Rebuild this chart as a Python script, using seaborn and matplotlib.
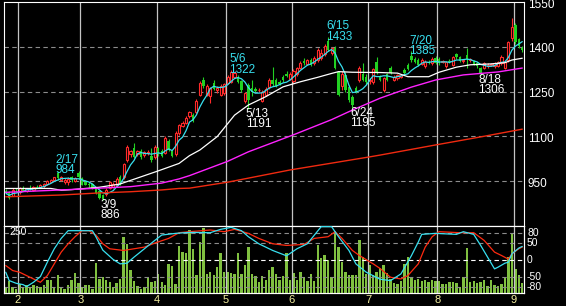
'''daily candlestick chart with moving averages, volume and oscillator panel'''
import numpy as np
import pandas as pd
import seaborn as sns
import matplotlib
matplotlib.use('Agg')
import matplotlib.pyplot as plt

#region data
opens = np.array([915, 912, 900, 918, 912, 925, 918, 925, 920, 930, 928, 932, 940, 948, 955, 978, 955, 948, 945, 962,
                  950, 978, 960, 945, 940, 940, 925, 915, 902, 905, 928, 930, 935, 965, 963, 1020, 1040, 1060, 1040, 1050,
                  1038, 1045, 1035, 1030, 1060, 1050, 1045, 1085, 1050, 1040, 1110, 1135, 1145, 1168, 1172, 1180, 1240, 1290, 1240, 1235,
                  1280, 1255, 1240, 1245, 1280, 1283, 1300, 1300, 1285, 1218, 1272, 1262, 1258, 1255, 1220, 1240, 1265, 1290, 1290, 1282,
                  1300, 1310, 1292, 1285, 1308, 1330, 1352, 1342, 1355, 1345, 1356, 1362, 1375, 1420, 1378, 1398, 1315, 1268, 1305, 1265,
                  1232, 1262, 1290, 1310, 1300, 1285, 1282, 1350, 1298, 1255, 1308, 1328, 1290, 1295, 1300, 1322, 1340, 1368, 1360, 1355,
                  1342, 1335, 1350, 1345, 1362, 1360, 1350, 1335, 1352, 1340, 1375, 1365, 1352, 1372, 1355, 1352, 1345, 1328, 1330, 1335,
                  1340, 1335, 1336, 1345, 1330, 1356, 1430, 1475, 1425, 1398])
highs = np.array([922, 918, 925, 928, 930, 932, 928, 935, 932, 938, 940, 942, 955, 958, 965, 984, 968, 960, 962, 968,
                  965, 982, 965, 952, 945, 942, 928, 918, 908, 925, 950, 945, 965, 970, 1012, 1070, 1055, 1078, 1055, 1058,
                  1052, 1055, 1060, 1070, 1065, 1058, 1100, 1090, 1055, 1118, 1142, 1150, 1168, 1185, 1178, 1225, 1285, 1300, 1275, 1265,
                  1290, 1270, 1275, 1280, 1305, 1322, 1318, 1305, 1290, 1250, 1280, 1288, 1265, 1262, 1255, 1265, 1295, 1332, 1295, 1290,
                  1305, 1318, 1315, 1325, 1332, 1352, 1362, 1360, 1362, 1368, 1395, 1392, 1410, 1433, 1400, 1402, 1320, 1318, 1315, 1272,
                  1240, 1268, 1335, 1345, 1308, 1295, 1330, 1365, 1305, 1300, 1312, 1335, 1305, 1310, 1308, 1328, 1345, 1385, 1365, 1362,
                  1362, 1355, 1356, 1365, 1368, 1365, 1356, 1352, 1358, 1368, 1380, 1370, 1360, 1398, 1362, 1356, 1350, 1332, 1350, 1345,
                  1345, 1350, 1352, 1372, 1352, 1420, 1497, 1480, 1430, 1402])
lows = np.array([905, 888, 898, 912, 908, 915, 912, 920, 918, 925, 925, 928, 938, 945, 950, 955, 950, 940, 938, 948,
                 945, 958, 935, 935, 930, 922, 905, 890, 886, 898, 922, 925, 930, 935, 958, 1015, 1032, 1028, 1035, 1025,
                 1030, 1038, 1015, 1025, 1035, 1030, 1040, 1050, 1030, 1035, 1105, 1130, 1140, 1162, 1148, 1175, 1235, 1262, 1235, 1212,
                 1255, 1245, 1235, 1240, 1275, 1278, 1295, 1280, 1250, 1212, 1191, 1235, 1248, 1250, 1215, 1235, 1260, 1268, 1265, 1272,
                 1282, 1298, 1288, 1280, 1302, 1325, 1340, 1338, 1335, 1340, 1350, 1355, 1368, 1385, 1372, 1325, 1235, 1255, 1250, 1215,
                 1195, 1245, 1282, 1285, 1275, 1275, 1275, 1310, 1285, 1250, 1285, 1310, 1285, 1290, 1295, 1310, 1322, 1350, 1345, 1335,
                 1338, 1330, 1342, 1340, 1342, 1340, 1345, 1330, 1346, 1335, 1360, 1348, 1345, 1330, 1350, 1338, 1330, 1306, 1325, 1330,
                 1335, 1330, 1332, 1340, 1325, 1350, 1420, 1410, 1398, 1382])
closes = np.array([910, 893, 920, 915, 925, 918, 925, 922, 930, 928, 936, 940, 950, 955, 962, 960, 962, 955, 958, 952,
                   960, 962, 938, 938, 935, 926, 910, 893, 890, 920, 945, 940, 958, 940, 1008, 1064, 1050, 1032, 1052, 1030,
                   1048, 1048, 1022, 1064, 1040, 1035, 1095, 1055, 1035, 1112, 1138, 1145, 1163, 1180, 1150, 1220, 1280, 1270, 1268, 1262,
                   1260, 1262, 1268, 1275, 1300, 1315, 1312, 1283, 1255, 1245, 1222, 1250, 1252, 1256, 1250, 1260, 1290, 1275, 1268, 1275,
                   1288, 1302, 1310, 1320, 1328, 1345, 1345, 1355, 1340, 1362, 1390, 1380, 1402, 1390, 1395, 1330, 1240, 1310, 1255, 1222,
                   1206, 1250, 1330, 1290, 1282, 1290, 1325, 1315, 1290, 1296, 1288, 1312, 1300, 1305, 1305, 1312, 1326, 1355, 1348, 1340,
                   1356, 1350, 1346, 1360, 1345, 1345, 1352, 1348, 1350, 1365, 1365, 1352, 1355, 1358, 1358, 1342, 1335, 1312, 1345, 1340,
                   1342, 1346, 1348, 1365, 1348, 1416, 1468, 1415, 1402, 1388])
volume = np.array([22, 44, 22, 16, 32, 22, 29, 22, 29, 25, 22, 29, 50, 48, 22, 66, 22, 16, 29, 48,
                   75, 38, 22, 29, 29, 16, 112, 54, 60, 50, 41, 22, 38, 54, 210, 182, 85, 44, 25, 16,
                   22, 58, 41, 44, 72, 41, 29, 110, 100, 35, 175, 154, 148, 235, 166, 66, 191, 241, 72, 79,
                   66, 98, 150, 79, 79, 75, 72, 150, 72, 104, 172, 72, 62, 41, 62, 48, 85, 98, 72, 50,
                   62, 148, 48, 75, 48, 79, 60, 44, 72, 44, 179, 132, 141, 122, 60, 232, 172, 116, 79, 66,
                   66, 66, 197, 135, 72, 104, 66, 79, 95, 104, 75, 54, 38, 35, 44, 110, 135, 60, 48, 54,
                   44, 48, 41, 50, 44, 44, 35, 35, 41, 41, 38, 22, 60, 169, 41, 45, 38, 41, 48, 25,
                   48, 29, 25, 35, 58, 135, 222, 91, 66, 38])

# moving averages (day index, price)
ma25_days = [0, 13, 16, 19, 27, 33, 39, 44, 50, 53, 56, 61, 66, 70, 75, 80, 85, 90, 94, 96, 100, 108, 113, 116, 122,
             125, 130, 134, 140, 144, 146, 149]
ma25_vals = [925, 925, 919, 921, 929, 940, 964, 984, 1009, 1035, 1054, 1099, 1171, 1205, 1233, 1266, 1283, 1298, 1311,
             1317, 1315, 1314, 1312, 1300, 1300, 1315, 1332, 1340, 1343, 1347, 1356, 1362]
ma75_days = [0, 16, 27, 36, 45, 50, 53, 64, 70, 83, 94, 100, 108, 117, 124, 132, 142, 149]
ma75_vals = [912, 920, 926, 931, 943, 957, 968, 1016, 1048, 1105, 1156, 1188, 1228, 1265, 1289, 1306, 1316, 1329]
ma200_days = [0, 16, 27, 36, 45, 50, 53, 64, 82, 105, 108, 124, 137, 149]
ma200_vals = [897, 903, 910, 914, 920, 925, 926, 946, 987, 1031, 1037, 1071, 1098, 1124]

# oscillator (lower panel)
osc_fast_days = [0, 1, 3, 5, 6, 8, 10, 12, 14, 16, 18, 21, 25, 26, 28, 31, 33, 35, 37, 40, 43, 45, 49, 53, 59,
                 62, 65, 68, 70, 73, 77, 81, 84, 87, 91, 94, 96, 99, 101, 104, 108, 111, 114, 117, 119,
                 120, 124, 130, 132, 135, 137, 139, 141, 142, 144, 145, 146, 148, 149]
osc_fast_vals = [-37, -62, -70, -74, -80, -67, -50, -7, 33, 64, 87, 87, 87, 69, 29, 1, -12, -10, 8, 33, 58, 74, 79, 82, 81,
                 91, 97, 87, 69, 48, 28, 12, 33, 48, 99, 99, 69, 28, -12, -37, -58, -62, -42, 12, 53,
                 76, 79, 76, 84, 76, 43, 8, -27, -22, -10, -7, 18, 35, 40]
osc_slow_days = [0, 2, 4, 7, 10, 12, 14, 16, 18, 20, 22, 24, 26, 28, 30, 34, 37, 40, 43, 47, 50, 53, 59, 63, 66,
                 70, 73, 77, 81, 86, 89, 93, 95, 97, 100, 102, 106, 108, 111, 114, 116, 119, 121, 123, 125,
                 131, 135, 138, 141, 143, 145, 146, 148, 149]
osc_slow_vals = [-17, -32, -37, -52, -67, -47, -12, 23, 48, 69, 87, 87, 74, 48, 33, 28, 33, 38, 50, 64, 81, 84, 89, 84, 91,
                 79, 64, 48, 43, 46, 64, 69, 84, 64, 28, 13, -12, -26, -52, -57, -47, -12, 38, 69, 84,
                 81, 81, 58, 23, 13, 2, 18, 33, 38]

# marked highs / lows
high_days = [15, 65, 93, 117]
high_prices = [984, 1322, 1433, 1385]
high_dates = ['2/17', '5/6', '6/15', '7/20']
low_days = [28, 70, 100, 137]
low_prices = [886, 1191, 1195, 1306]
low_dates = ['3/9', '5/13', '6/24', '8/18']

month_labels = ['2', '3', '4', '5', '6', '7', '8', '9']
month_first_day = [4, 22, 44, 64, 83, 105, 125, 147]
price_ticks = [950, 1100, 1250, 1400, 1550]
osc_ticks = [80, 50, 0, -50, -80]
#endregion

RED = '#FF2A2A'
GREEN = '#22D022'
CYAN = '#38E0F0'
VOLC = '#80C040'
GRID = '#8C8C8C'
VGRID = '#C4C4C4'
YEL = '#F4EFA0'
FS = 8.5
FS_SMALL = 7.5

sns.set_style('dark', rc={'axes.facecolor': 'black', 'figure.facecolor': 'black',
                          'axes.edgecolor': 'white', 'axes.grid': False})
plt.rcParams['font.family'] = ['Liberation Sans', 'DejaVu Sans']

fig = plt.figure(figsize=(5.66, 3.06), dpi=100)
ax = fig.add_axes([4/566, 1-226/306, 520/566, 224/306])
axv = fig.add_axes([4/566, 1-293/306, 520/566, 67/306])
axo = axv.twinx()

days = np.arange(len(closes))
up = closes >= opens

#region price panel
for v in price_ticks[:-1]:
    ax.axhline(v, color=GRID, lw=0.8, ls=(0, (4, 3)), zorder=1)
for d in month_first_day:
    ax.axvline(d - 0.5, color=VGRID, lw=0.9, zorder=1)

ax.vlines(days[up], lows[up], highs[up], color=RED, lw=0.8, zorder=2)
ax.vlines(days[~up], lows[~up], highs[~up], color=GREEN, lw=0.8, zorder=2)
ax.bar(days[up], closes[up] - opens[up], bottom=opens[up], width=0.6,
       facecolor='black', edgecolor=RED, linewidth=0.8, zorder=3)
ax.bar(days[~up], opens[~up] - closes[~up], bottom=closes[~up], width=0.7,
       color=GREEN, linewidth=0, zorder=3)

ma5 = pd.Series(closes).rolling(5, min_periods=1).mean()
sns.lineplot(x=days, y=ma5, ax=ax, color=CYAN, lw=0.9, zorder=4)
sns.lineplot(x=ma25_days, y=ma25_vals, ax=ax, color='white', lw=0.9, zorder=4)
sns.lineplot(x=ma75_days, y=ma75_vals, ax=ax, color='#FF22FF', lw=1.0, zorder=4)
sns.lineplot(x=ma200_days, y=ma200_vals, ax=ax, color='#F02A10', lw=1.0, zorder=4)

# date over price for highs, date under the low for lows (one text each);
# va='baseline' anchors the last line here
for d, p, t in zip(high_days, high_prices, high_dates):
    ax.annotate(f'{t}\n{p}', (d, p), xytext=(-2, -2.5), textcoords='offset pixels', color=CYAN,
                fontsize=FS, ha='left', va='baseline', linespacing=0.8, zorder=5)
for d, p, t in zip(low_days, low_prices, low_dates):
    ax.annotate(f'{t}\n{p}', (d, p), xytext=(-2.5, -18), textcoords='offset pixels', color='white',
                fontsize=FS, ha='left', va='baseline', linespacing=0.8, zorder=5)

ax.set_xlim(-0.5, len(closes) - 0.5)
ax.set_ylim(799, 1550.7)
ax.set_xticks([])
ax.set_yticks([])
ax.set_xlabel('')
ax.set_ylabel('')
for v in price_ticks:
    ax.annotate(str(v), (1, v), xycoords=('axes fraction', 'data'), xytext=(4, -2.5),
                textcoords='offset pixels', color='white', fontsize=FS, ha='left', va='center')
#endregion

#region lower panel
axv.bar(days, volume, width=0.7, color=VOLC, linewidth=0, zorder=2)
axv.set_ylim(0, 250)
axv.set_xlim(-0.5, len(closes) - 0.5)
axv.set_yticks([])
axv.text(5/520, (293-235)/67, '250', transform=axv.transAxes, color='white', fontsize=FS_SMALL,
         ha='left', va='baseline', zorder=6)

for v in osc_ticks:
    axo.axhline(v, color='white' if v == 0 else GRID, lw=0.8, ls=(0, (4, 3)), zorder=1)
for d in month_first_day:
    axo.axvline(d - 0.5, color=VGRID, lw=0.9, zorder=1)
sns.lineplot(x=osc_slow_days, y=osc_slow_vals, ax=axo, color='#FF2A10', lw=0.9, zorder=4)
sns.lineplot(x=osc_fast_days, y=osc_fast_vals, ax=axo, color=CYAN, lw=0.9, zorder=4)
axo.set_ylim(-99, 101)
axo.set_yticks([])
axo.set_ylabel('')
for v in osc_ticks:
    axo.annotate(str(v), (1, v), xycoords=('axes fraction', 'data'), xytext=(3, 0),
                 textcoords='offset pixels', color='white', fontsize=FS_SMALL, ha='left', va='center')

axv.set_xticks([d - 0.5 for d in month_first_day])
axv.set_xticklabels(month_labels)
axv.tick_params(axis='x', length=0, pad=1.5, labelsize=FS_SMALL + 0.5, labelcolor=YEL)
axv.set_xlabel('')
#endregion

for a in (ax, axv, axo):
    for s in a.spines.values():
        s.set_color('white')
        s.set_linewidth(0.8)

fig.savefig('out.png', dpi=100, facecolor='black')
